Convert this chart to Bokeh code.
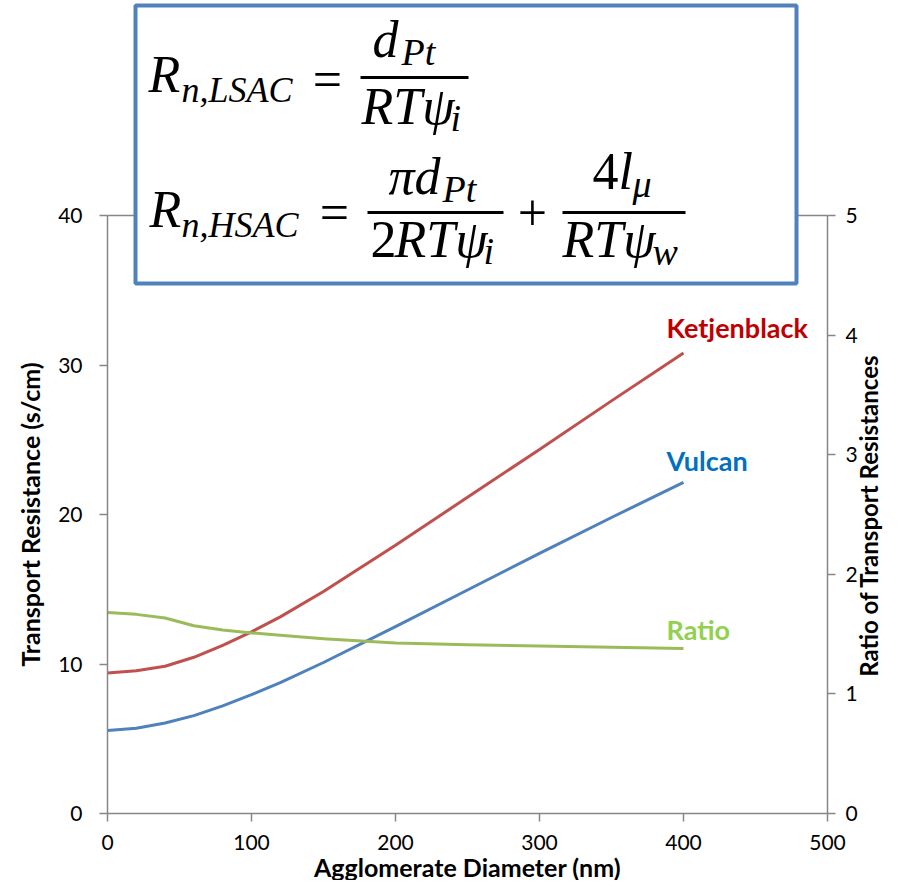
import math
from bokeh.plotting import figure
from bokeh.models import Range1d, LinearAxis, FixedTicker, Label, BoxAnnotation
from bokeh.embed import file_html
from bokeh.resources import INLINE

# ---------------- data ----------------
DIAMETER = [0, 20, 40, 60, 80, 100, 120, 150, 200, 250, 300, 350, 400]
KETJENBLACK = [9.4, 9.55, 9.85, 10.45, 11.25, 12.15, 13.15, 14.85, 17.95, 21.15, 24.35, 27.6, 30.8]
VULCAN = [5.55, 5.7, 6.05, 6.55, 7.2, 7.95, 8.75, 10.1, 12.5, 14.95, 17.4, 19.8, 22.15]
RATIO = [1.68, 1.665, 1.635, 1.57, 1.535, 1.51, 1.49, 1.462, 1.425, 1.41, 1.40, 1.39, 1.38]

X_TICKS = [0, 100, 200, 300, 400, 500]
Y_TICKS = [0, 10, 20, 30, 40]
RATIO_TICKS = [0, 1, 2, 3, 4, 5]
X_MAX, Y_MAX, RATIO_MAX = 500, 40, 5

X_TITLE = "Agglomerate Diameter (nm)"
Y_TITLE = "Transport Resistance (s/cm)"
Y2_TITLE = "Ratio of Transport Resistances"
SERIES_NAMES = ["Ketjenblack", "Vulcan", "Ratio"]
SERIES_COLORS = ["#C0504D", "#4F81BD", "#9BBB59"]
LABEL_COLORS = ["#C00000", "#0070C0", "#92D050"]

# ---------------- layout (pixel rows / columns of the plot box) ----------------
W, H = 884, 880
PX_X0, PX_X1 = 107, 827      # columns of x = 0 and x = 500
PX_Y0, PX_Y1 = 813, 215      # rows of y = 0 and y = 40
PX_PER_X = (PX_X1 - PX_X0) / X_MAX
PX_PER_Y = (PX_Y0 - PX_Y1) / Y_MAX

def dx(px):
    return (px - PX_X0) / PX_PER_X

def dy(py):
    return (PX_Y0 - py) / PX_PER_Y

AXIS_COLOR = "#868686"
FONT = "Lato"

# the frame fills the whole canvas; axes are pinned with fixed_location
p = figure(width=W, height=H,
           x_range=Range1d(dx(0), dx(W)), y_range=Range1d(dy(H), dy(0)),
           output_backend="svg", toolbar_location=None,
           min_border_left=0, min_border_right=0, min_border_top=0, min_border_bottom=0)
p.title.visible = False
p.outline_line_color = None
p.xgrid.visible = False
p.ygrid.visible = False

ratio_scale = RATIO_MAX / Y_MAX
p.extra_y_ranges = {"ratio": Range1d(dy(H) * ratio_scale, dy(0) * ratio_scale)}
right_axis = LinearAxis(y_range_name="ratio")
p.add_layout(right_axis, "right")

def style_axis(ax, ticks, bounds, standoff, loc):
    ax.ticker = FixedTicker(ticks=ticks)
    ax.bounds = bounds
    ax.fixed_location = loc
    ax.axis_line_color = AXIS_COLOR
    ax.axis_line_width = 1.5
    ax.major_tick_line_color = AXIS_COLOR
    ax.major_tick_line_width = 1.5
    ax.major_tick_in = 0
    ax.major_tick_out = 8
    ax.minor_tick_line_color = None
    ax.major_label_text_font = FONT
    ax.major_label_text_font_size = "21px"
    ax.major_label_text_color = "#000000"
    ax.major_label_standoff = standoff

style_axis(p.xaxis[0], X_TICKS, (0, X_MAX), 13, 0)
style_axis(p.yaxis[0], Y_TICKS, (0, Y_MAX), 17, 0)
style_axis(right_axis, RATIO_TICKS, (0, RATIO_MAX), 10, X_MAX)

# top border of the plot area (y = 40 from x = 0 to 500)
p.segment(x0=[0], y0=[Y_MAX], x1=[X_MAX], y1=[Y_MAX], line_color=AXIS_COLOR, line_width=1.5)

# series
p.line(DIAMETER, KETJENBLACK, line_color=SERIES_COLORS[0], line_width=3, line_join="round")
p.line(DIAMETER, VULCAN, line_color=SERIES_COLORS[1], line_width=3, line_join="round")
p.line(DIAMETER, RATIO, line_color=SERIES_COLORS[2], line_width=3, line_join="round",
       y_range_name="ratio")

# rendered alphabetic baseline sits about 0.37 em below the given y
def label(text, x, base, size, **kw):
    p.add_layout(Label(x=dx(x), y=dy(base - 0.37 * size), text=text,
                       text_font_size=f"{size}px", text_baseline="alphabetic", **kw))

for name, color, base in zip(SERIES_NAMES, LABEL_COLORS, [337, 470, 639]):
    label(name, 666, base, 27, text_color=color, text_font=FONT,
          text_font_style="bold", text_align="left")

# axis titles
def title(text, x, y, angle, size):
    p.add_layout(Label(x=dx(x), y=dy(y), text=text, angle=angle,
                       text_font=FONT, text_font_style="bold", text_font_size=f"{size}px",
                       text_color="#000000", text_align="center", text_baseline="middle"))

title(Y_TITLE, 29, 514, math.pi / 2, 25)
title(Y2_TITLE, 868, 515, math.pi / 2, 24)
title(X_TITLE, 467, 866, 0, 25)

# equation box
p.add_layout(BoxAnnotation(left=dx(135), right=dx(796), top=dy(5), bottom=dy(283),
                           fill_color="white", fill_alpha=1.0,
                           line_color="#4F81BD", line_width=4, line_alpha=1.0))

EQ_FONT = "Liberation Serif"
EQ_PIECES = [
    # text, x, baseline, size, style, align
    ("R", 148, 93, 52, "italic", "left"),
    ("n,LSAC", 181, 103, 36, "italic", "left"),
    ("=", 327, 98, 52, "normal", "center"),
    ("d", 372, 58, 52, "italic", "left"),
    ("Pt", 401, 66, 38, "italic", "left"),
    ("RTψ", 361, 125, 52, "italic", "left"),
    ("i", 450, 132, 38, "italic", "left"),
    ("R", 149, 228, 52, "italic", "left"),
    ("n,HSAC", 181, 238, 36, "italic", "left"),
    ("=", 334, 231, 52, "normal", "center"),
    ("πd", 388, 195, 52, "italic", "left"),
    ("Pt", 442, 203, 38, "italic", "left"),
    ("2", 370, 258, 52, "normal", "left"),
    ("RTψ", 394, 258, 52, "italic", "left"),
    ("i", 483, 265, 38, "italic", "left"),
    ("+", 532, 231, 52, "normal", "center"),
    ("4", 592, 190, 52, "normal", "left"),
    ("l", 618, 190, 52, "italic", "left"),
    ("μ", 632, 198, 38, "italic", "left"),
    ("RTψ", 562, 258, 52, "italic", "left"),
    ("w", 652, 266, 38, "italic", "left"),
]
for txt, x, base, s, st, al in EQ_PIECES:
    label(txt, x, base, s, text_font=EQ_FONT, text_font_style=st,
          text_color="#000000", text_align=al)

FRACTION_BARS = [(360, 468, 77), (367, 503, 212), (562, 685, 212)]
for x0, x1, y in FRACTION_BARS:
    p.segment(x0=[dx(x0)], y0=[dy(y)], x1=[dx(x1)], y1=[dy(y)],
              line_color="#000000", line_width=3, level="overlay")

open("out.html", "w").write(file_html(p, INLINE))
